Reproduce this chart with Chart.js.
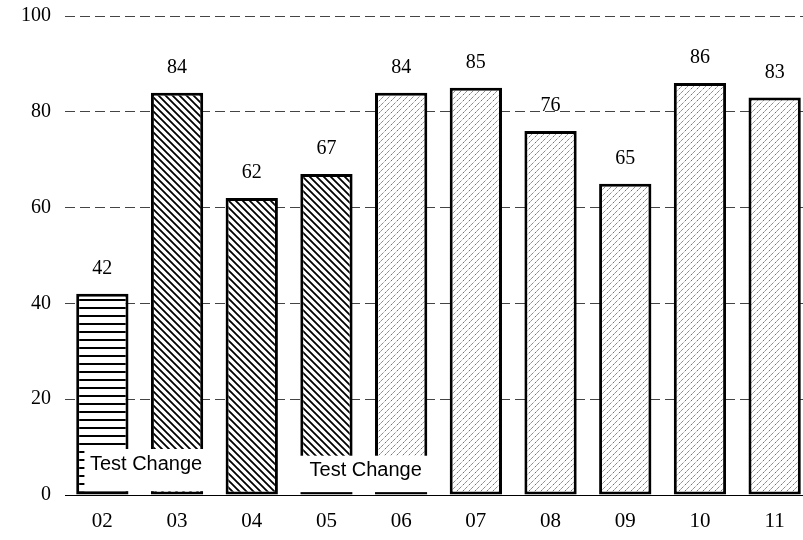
<!DOCTYPE html>
<html>
<head>
<meta charset="utf-8">
<script src="https://cdn.jsdelivr.net/npm/chart.js@4.4.0/dist/chart.umd.min.js"></script>
<style>
  html, body { margin: 0; padding: 0; background: #fff; overflow: hidden; }
  #wrap { width: 803px; height: 540px; overflow: hidden; position: relative; }
  canvas { display: block; }
</style>
</head>
<body>
<div id="wrap"><canvas id="c" width="830" height="540"></canvas></div>
<script>
// ---- data ----
const categories = ['02', '03', '04', '05', '06', '07', '08', '09', '10', '11'];
const values = [42, 84, 62, 67, 84, 85, 76, 65, 86, 83];
const yTicks = [0, 20, 40, 60, 80, 100];
const titleText = '2002 Test';
const noteTexts = ['Test Change', 'Test Change'];

// ---- styles ----
function makePattern(kind) {
  const s = kind === 'horizontal' ? 8 : (kind === 'backslash' ? 7 : 6);
  const c = document.createElement('canvas');
  c.width = s; c.height = s;
  const g = c.getContext('2d');
  g.fillStyle = '#fff';
  g.fillRect(0, 0, s, s);
  if (kind === 'horizontal') {
    g.fillStyle = '#000';
    g.fillRect(0, 3, s, 2);
  } else if (kind === 'backslash') {
    g.strokeStyle = '#000';
    g.lineWidth = 1.8;
    g.beginPath();
    g.moveTo(-1, -1); g.lineTo(s + 1, s + 1);
    g.moveTo(-1, s - 1); g.lineTo(1, s + 1);
    g.moveTo(s - 1, -1); g.lineTo(s + 1, 1);
    g.stroke();
  } else {
    g.strokeStyle = '#555';
    g.lineWidth = 1;
    g.setLineDash([1.5, 1]);
    g.beginPath();
    g.moveTo(-1, s + 1); g.lineTo(s + 1, -1);
    g.moveTo(-1, 1); g.lineTo(1, -1);
    g.moveTo(s - 1, s + 1); g.lineTo(s + 1, s - 1);
    g.stroke();
  }
  return g.createPattern(c, 'repeat');
}
const pH = makePattern('horizontal');
const pB = makePattern('backslash');
const pL = makePattern('light');
const fills = categories.map((_, i) => i === 0 ? pH : (i <= 3 ? pB : pL));

const serif = '"Liberation Serif", "Times New Roman", serif';
const sans = '"Liberation Sans", Arial, sans-serif';

// notes in data units: x index range, y value range, text y
const notes = [
  { text: noteTexts[0], x0: -0.24, x1: 1.41, y0: 0.8, y1: 9.6, ty: 6.3 },
  { text: noteTexts[1], x0: 2.64, x1: 4.41, y0: 0.6, y1: 8.2, ty: 5.2 }
];

const overlayPlugin = {
  id: 'overlay',
  afterDatasetsDraw(chart) {
    const ctx = chart.ctx;
    const meta = chart.getDatasetMeta(0);
    const xs = chart.scales.x, ys = chart.scales.y;
    ctx.save();
    // value labels
    ctx.fillStyle = '#000';
    ctx.font = '20px ' + serif;
    ctx.textAlign = 'center';
    ctx.textBaseline = 'middle';
    meta.data.forEach((bar, i) => {
      ctx.fillText(String(values[i]), bar.x, bar.y - 25);
    });
    // note boxes
    notes.forEach(n => {
      const l = xs.getPixelForValue(n.x0), r = xs.getPixelForValue(n.x1);
      const t = ys.getPixelForValue(n.y1), b = ys.getPixelForValue(n.y0);
      ctx.fillStyle = '#fff';
      ctx.fillRect(l, t, r - l, b - t);
      ctx.fillStyle = '#000';
      ctx.font = '20px ' + sans;
      ctx.textAlign = 'center';
      ctx.textBaseline = 'middle';
      ctx.fillText(n.text, (l + r) / 2, ys.getPixelForValue(n.ty));
    });
    // title (mostly cut off at top)
    ctx.font = '20px ' + serif;
    ctx.textAlign = 'center';
    ctx.textBaseline = 'bottom';
    ctx.fillStyle = '#666';
    ctx.fillText(titleText, 396, 4);
    ctx.restore();
  }
};

new Chart(document.getElementById('c'), {
  type: 'bar',
  data: {
    labels: categories,
    datasets: [{
      data: values,
      backgroundColor: fills,
      borderColor: '#000',
      borderWidth: 3,
      borderSkipped: false,
      categoryPercentage: 1,
      barPercentage: 0.70
    }]
  },
  options: {
    responsive: false,
    devicePixelRatio: 1,
    animation: false,
    layout: { padding: { top: 16, right: 18, left: 0, bottom: 0 } },
    plugins: { legend: { display: false }, tooltip: { enabled: false }, title: { display: false } },
    scales: {
      x: {
        offset: true,
        grid: { display: false, drawTicks: false },
        border: { display: true, color: '#000', width: 1 },
        ticks: { color: '#000', font: { family: serif, size: 21 }, padding: 14 },
        afterFit(a) { a.height = 45; }
      },
      y: {
        min: 0, max: 100,
        afterBuildTicks(a) { a.ticks = yTicks.map(v => ({ value: v })); },
        grid: {
          drawTicks: false,
          color: ctx => ctx.tick && ctx.tick.value === 0 ? 'rgba(0,0,0,0)' : '#444',
          lineWidth: 1
        },
        border: { display: false, dash: [10, 5] },
        ticks: { color: '#000', font: { family: serif, size: 20, lineHeight: 0.2 }, padding: 14 },
        afterFit(a) { a.width = 65; }
      }
    }
  },
  plugins: [overlayPlugin]
});
</script>
</body>
</html>
